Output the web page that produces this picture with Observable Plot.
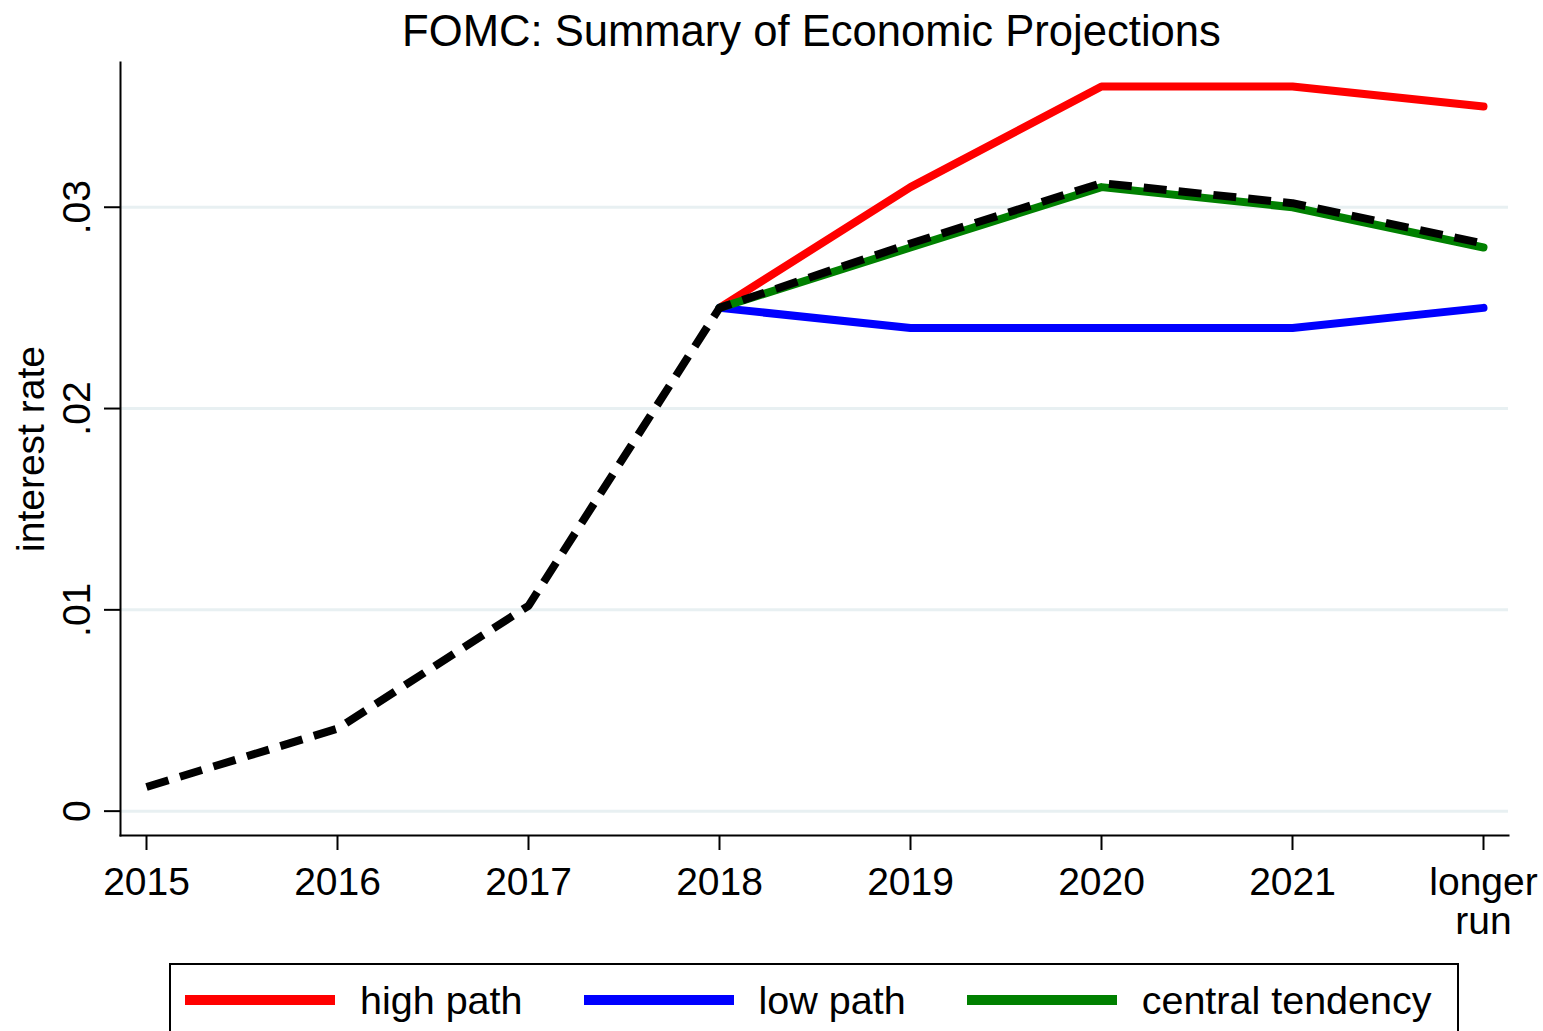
<!DOCTYPE html>
<html>
<head>
<meta charset="utf-8">
<script src="https://cdn.jsdelivr.net/npm/d3@7"></script>
<script src="https://cdn.jsdelivr.net/npm/@observablehq/plot@0.6"></script>
<style>
  html, body { margin: 0; padding: 0; background: #fff; }
  #wrap { position: relative; width: 1543px; height: 1031px; overflow: hidden; background: #fff;
          font-family: "Liberation Sans", Arial, sans-serif; }
  #legend { position: absolute; left: 169px; top: 963px; width: 1290px; height: 72px;
            box-sizing: border-box; border: 2px solid #000; background: #fff; }
  #legend .row { position: absolute; left: 14px; top: 23px; height: 24px; display: flex; align-items: center; }
  #legend .item { display: flex; align-items: center; margin-right: 61px; }
  #legend .sw { width: 150px; height: 10px; margin-right: 25px; }
  #legend .lab { font-size: 39.5px; line-height: 1; position: relative; top: 1px; color: #000; white-space: nowrap; }
</style>
</head>
<body>
<div id="wrap"></div>
<script>
// ---- data ----
const title = "FOMC: Summary of Economic Projections";
const yLabel = "interest rate";
const categories = ["2015", "2016", "2017", "2018", "2019", "2020", "2021", "longer run"];
const categoryLabels = ["2015", "2016", "2017", "2018", "2019", "2020", "2021", "longer\nrun"];
const medianPath = [0.0012, 0.0041, 0.0102, 0.025, 0.0282, 0.0312, 0.0302, 0.0282];
const projectionCategories = ["2018", "2019", "2020", "2021", "longer run"];
const highPath = [0.025, 0.031, 0.036, 0.036, 0.035];
const lowPath = [0.025, 0.024, 0.024, 0.024, 0.025];
const centralTendency = [0.025, 0.028, 0.031, 0.030, 0.028];
const yTicks = [0, 0.01, 0.02, 0.03];
const yTickLabels = ["0", ".01", ".02", ".03"];
const seriesNames = ["high path", "low path", "central tendency"];
const seriesColors = ["#ff0000", "#0000ff", "#008000"];

// ---- tables built from the arrays ----
const toRows = (cats, vals) => cats.map((c, i) => ({cat: c, value: vals[i]}));
const medianRows = toRows(categories, medianPath);
const highRows = toRows(projectionCategories, highPath);
const lowRows = toRows(projectionCategories, lowPath);
const centralRows = toRows(projectionCategories, centralTendency);

const lineStyle = {x: "cat", y: "value", strokeWidth: 8, strokeLinecap: "round", strokeLinejoin: "round"};

const chart = Plot.plot({
  width: 1543,
  height: 945,
  marginLeft: 120,
  marginRight: 35,
  marginTop: 62,
  marginBottom: 110,
  style: {fontFamily: "'Liberation Sans', Arial, sans-serif", background: "#fff", overflow: "visible", color: "#000"},
  x: {type: "point", domain: categories, padding: 0.131},
  y: {domain: [-0.00121, 0.03719]},
  marks: [
    Plot.gridY(yTicks, {stroke: "#e8f0f2", strokeOpacity: 1, strokeWidth: 3}),
    Plot.frame({anchor: "left", stroke: "#000", strokeWidth: 2}),
    Plot.frame({anchor: "bottom", stroke: "#000", strokeWidth: 2}),
    Plot.axisX({
      label: null, tickSize: 15, tickPadding: 17, fontSize: 39, strokeWidth: 2, lineHeight: 1,
      tickFormat: d => categoryLabels[categories.indexOf(d)]
    }),
    Plot.axisY(yTicks, {
      label: null, tickSize: 16, tickPadding: 15, tickRotate: -90, fontSize: 39, strokeWidth: 2,
      tickFormat: d => yTickLabels[yTicks.indexOf(d)]
    }),
    Plot.text([yLabel], {text: d => d, frameAnchor: "left", rotate: -90, dx: -77,
      lineAnchor: "bottom", textAnchor: "middle", fontSize: 39, fill: "#000"}),
    Plot.text([title], {text: d => d, frameAnchor: "top", dy: -17, dx: -3,
      lineAnchor: "bottom", textAnchor: "middle", fontSize: 43.6, fill: "#000"}),
    Plot.line(highRows, {...lineStyle, stroke: seriesColors[0]}),
    Plot.line(lowRows, {...lineStyle, stroke: seriesColors[1]}),
    Plot.line(centralRows, {...lineStyle, stroke: seriesColors[2]}),
    Plot.line(medianRows, {x: "cat", y: "value", stroke: "#000", strokeWidth: 8,
      strokeDasharray: "23,12", strokeLinecap: "butt", strokeLinejoin: "miter"})
  ]
});

const wrap = document.getElementById("wrap");
wrap.appendChild(chart);

// legend (HTML, below the SVG)
const legend = document.createElement("div");
legend.id = "legend";
const row = document.createElement("div");
row.className = "row";
seriesNames.forEach((name, i) => {
  const item = document.createElement("div");
  item.className = "item";
  const sw = document.createElement("div");
  sw.className = "sw";
  sw.style.background = seriesColors[i];
  const lab = document.createElement("span");
  lab.className = "lab";
  lab.textContent = name;
  item.appendChild(sw);
  item.appendChild(lab);
  row.appendChild(item);
});
legend.appendChild(row);
wrap.appendChild(legend);
</script>
</body>
</html>
